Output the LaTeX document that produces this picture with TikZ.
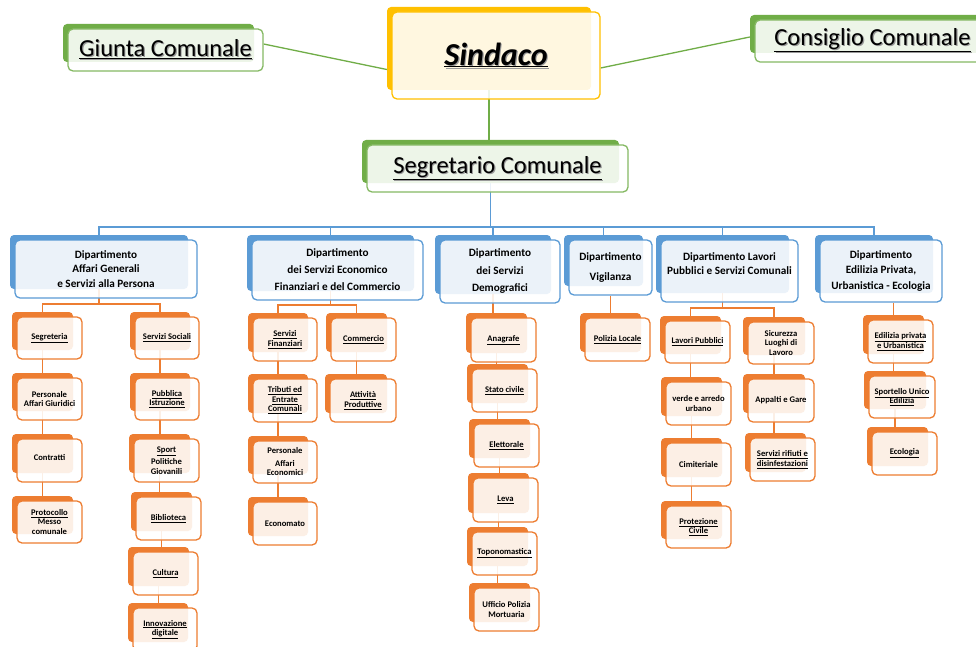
\documentclass[tikz,border=0pt]{standalone}
\usepackage{fontspec}
\setmainfont{Carlito}
\usetikzlibrary{calc}
\pgfdeclarelayer{bg}
\pgfsetlayers{bg,main}
\definecolor{cg}{HTML}{70AD47}
\definecolor{cy}{HTML}{FFC000}
\definecolor{cb}{HTML}{5B9BD5}
\definecolor{co}{HTML}{ED7D31}
\newcommand\fTop{\fontsize{24.5}{28}\selectfont}
\newcommand\fSind{\fontsize{32}{36}\selectfont\bfseries\itshape}
\newcommand\fDept{\fontsize{11.2}{14.5}\selectfont\bfseries}
\newcommand\fLeaf{\fontsize{8.6}{9.5}\selectfont\bfseries}
\newcommand\shd[1]{\makebox[0pt][l]{\hspace{1.1pt}\raisebox{-1.1pt}{\textcolor{black!40}{#1}}}#1}
% #1 extra options, #2 kind, #3 name, #4 x1, #5 y1, #6 x2, #7 y2, #8 text
\newcommand\ob[8][]{%
  \pgfmathsetmacro\obw{#6-#4}%
  \pgfmathsetmacro\obh{#7-#5}%
  \pgfmathsetmacro\obx{(#4+#6)/2}%
  \pgfmathsetmacro\oby{(#5+#7)/2}%
  \node[#2back, minimum width=\obw pt-4pt, minimum height=\obh pt-4pt] (#3b) at (\obx-7,\oby-7) {};
  \node[#2front, minimum width=\obw pt, minimum height=\obh pt, #1] (#3) at (\obx,\oby) {#8};
}
\newcommand\vc[2]{\draw[oline] (#1b.south) -- (#1b.south |- #2b.north);}
\tikzset{
  backbase/.style={rounded corners=4pt, inner sep=0pt, draw=none},
  frontbase/.style={fill=white, fill opacity=0.88, text opacity=1, line width=1.3pt,
    rounded corners=5pt, inner sep=0pt, align=center, text=black},
  gback/.style={backbase, fill=cg},
  gfront/.style={frontbase, draw=cg!85, font=\fTop},
  yback/.style={backbase, fill=cy},
  yfront/.style={frontbase, draw=cy, font=\fSind},
  bback/.style={backbase, fill=cb},
  bfront/.style={frontbase, draw=cb, font=\fDept},
  oback/.style={backbase, fill=co},
  ofront/.style={frontbase, draw=co, font=\fLeaf},
  gline/.style={draw=cg, line width=1.3pt},
  bline/.style={draw=cb, line width=1.5pt},
  oline/.style={draw=co, line width=1.6pt},
}
\begin{document}
\begin{tikzpicture}[x=1pt,y=-1pt]
\useasboundingbox (0,0) rectangle (976,647);
\clip (0,0) rectangle (976,647);
% top level
\ob{g}{giunta}{68}{29}{263}{71}{\shd{\underline{Giunta Comunale}}}
\ob{y}{sind}{392}{12}{600}{99}{\shd{\underline{Sindaco}}}
\ob{g}{cons}{755}{20}{990}{62}{\shd{\underline{Consiglio Comunale}}}
\ob{g}{segr}{367}{145}{628}{192}{\shd{\underline{Segretario Comunale}}}
% departments
\ob{b}{d1}{15}{240}{197}{298}{Dipartimento\\Affari Generali\\e Servizi alla Persona}
\ob{b}{d2}{252}{240}{423}{300}{Dipartimento\\[2.5pt]dei Servizi Economico\\[2.5pt]Finanziari e del Commercio}
\ob{b}{d3}{440}{240}{560}{303}{Dipartimento\\[3pt]dei Servizi\\[3pt]Demografici}
\ob{b}{d4}{569}{240}{652}{295}{Dipartimento\\[5.5pt]Vigilanza}
\ob{b}{d5}{661}{240}{798}{302}{Dipartimento Lavori\\Pubblici e Servizi Comunali\\\mbox{}}
\ob{b}{d6}{820}{240}{942}{302}{Dipartimento\\[1pt]Edilizia Privata,\\[1pt]Urbanistica - Ecologia}
% dept 1
\ob{o}{seg}{17}{317}{82}{359}{\underline{Segreteria}}
\ob{o}{pers}{17}{378}{82}{420}{Personale\\Affari Giuridici}
\ob{o}{contr}{17}{439}{82}{482}{\raisebox{6pt}{Contratti}}
\ob{o}{prot}{17}{501}{82}{543}{\underline{Protocollo}\\Messo\\comunale}
\ob{o}{ssoc}{135}{317}{199}{359}{\underline{Servizi Sociali}}
\ob{o}{pubi}{135}{378}{199}{420}{\underline{Pubblica}\\\underline{Istruzione}}
\ob{o}{sport}{134}{439}{199}{482}{\underline{Sport}\\[3pt]Politiche\\Giovanili}
\ob{o}{bibl}{136}{497}{201}{540}{\underline{Biblioteca}}
\ob{o}{cult}{133}{552}{198}{595}{\underline{Cultura}}
\ob{o}{innov}{133}{608}{197}{651}{\underline{Innovazione}\\\underline{digitale}}
% dept 2
\ob{o}{sfin}{253}{318}{317}{361}{\underline{Servizi}\\\underline{Finanziari}}
\ob{o}{trib}{253}{379}{317}{422}{\underline{Tributi ed}\\\underline{Entrate}\\\underline{Comunali}}
\ob{o}{peco}{253}{441}{317}{483}{Personale\\[3pt]Affari\\Economici}
\ob{o}{econ}{253}{502}{317}{545}{Economato}
\ob{o}{comm}{331}{318}{396}{361}{\underline{Commercio}}
\ob{o}{attp}{330}{379}{396}{422}{\underline{Attività}\\\underline{Produttive}}
% dept 3
\ob{o}{anag}{471}{318}{536}{362}{\underline{Anagrafe}}
\ob{o}{stciv}{472}{369}{537}{412}{\underline{Stato civile}}
\ob{o}{elett}{474}{424}{539}{467}{\underline{Elettorale}}
\ob{o}{leva}{473}{478}{538}{522}{\underline{Leva}}
\ob{o}{topo}{472}{532}{537}{575}{\underline{Toponomastica}}
\ob{o}{ufpm}{474}{588}{539}{631}{Ufficio Polizia\\Mortuaria}
% dept 4
\ob{o}{polo}{585}{318}{650}{361}{\underline{Polizia Locale}}
% dept 5
\ob{o}{lavp}{665}{321}{730}{363}{\underline{Lavori Pubblici}}
\ob{o}{verde}{666}{382}{731}{425}{verde e arredo\\urbano}
\ob{o}{cimi}{666}{443}{731}{486}{Cimiteriale}
\ob{o}{prciv}{666}{506}{731}{548}{\underline{Protezione}\\\underline{Civile}}
\ob{o}{sicur}{748}{322}{814}{364}{Sicurezza\\Luoghi di\\Lavoro}
\ob{o}{appal}{748}{379}{814}{422}{Appalti e Gare}
\ob{o}{rifiu}{750}{438}{815}{481}{\underline{Servizi rifiuti e}\\\underline{disinfestazioni}}
% dept 6
\ob{o}{edpr}{868}{320}{933}{363}{\underline{Edilizia privata}\\\underline{e Urbanistica}}
\ob{o}{spue}{869}{376}{935}{418}{\underline{Sportello Unico}\\\underline{Edilizia}}
\ob{o}{ecol}{872}{432}{937}{475}{\underline{Ecologia}}
% connectors
\begin{pgfonlayer}{bg}
\fill[white] (0,0) rectangle (976,647);
\draw[gline] ([yshift=6pt]giunta.east) -- ([yshift=-21pt]sindb.west);
\draw[gline] ([yshift=-12.5pt]sind.east) -- ([yshift=-3pt]consb.west);
\draw[gline] (sindb.south) -- (sindb.south |- segrb.north);
\draw[bline] (segrb.south) -- ++(0,44) coordinate (bus);
\foreach \d in {d1b,d2b,d3b,d4b,d5b,d6b} \draw[bline] (bus) -| (\d.north);
% dept 1
\draw[oline] (d1b.south) -- ++(0,15) coordinate (j1);
\draw[oline] (j1) -| (segb.north);
\draw[oline] (j1) -| (ssocb.north);
\vc{seg}{pers}\vc{pers}{contr}\vc{contr}{prot}
\vc{ssoc}{pubi}\vc{pubi}{sport}\vc{sport}{bibl}\vc{bibl}{cult}\vc{cult}{innov}
% dept 2
\draw[oline] (d2b.south) -- ++(0,14) coordinate (j2);
\draw[oline] (j2) -| (sfinb.north);
\draw[oline] (j2) -| (commb.north);
\vc{sfin}{trib}\vc{trib}{peco}\vc{peco}{econ}
\vc{comm}{attp}
% dept 3
\draw[oline] (d3b.south) -- (d3b.south |- anagb.north);
\vc{anag}{stciv}\vc{stciv}{elett}\vc{elett}{leva}\vc{leva}{topo}\vc{topo}{ufpm}
% dept 4
\draw[oline] (d4.south) -- (d4.south |- polob.north);
% dept 5
\draw[oline] (d5b.south) -- ++(0,15) coordinate (j5);
\draw[oline] (j5) -| (lavpb.north);
\draw[oline] (j5) -| (sicurb.north);
\vc{lavp}{verde}\vc{verde}{cimi}\vc{cimi}{prciv}
\vc{sicur}{appal}\vc{appal}{rifiu}
% dept 6
\draw[oline] (edprb.north) -- (edprb.north |- d6.south);
\vc{edpr}{spue}\vc{spue}{ecol}
\end{pgfonlayer}
\end{tikzpicture}
\end{document}
